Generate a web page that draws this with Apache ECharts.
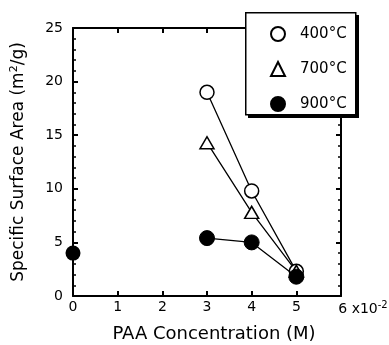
<!DOCTYPE html>
<html>
<head>
<meta charset="utf-8">
<script src="https://cdn.jsdelivr.net/npm/echarts@6/dist/echarts.min.js"></script>
<style>
  html, body { margin: 0; padding: 0; background: #fff; }
  #chart { width: 389px; height: 345px; }
</style>
</head>
<body>
<div id="chart"></div>
<script>
// PAA concentration (x 10^-2 M) vs specific surface area (m2/g)
var xTicks = [0, 1, 2, 3, 4, 5, 6];
var yTicks = [0, 5, 10, 15, 20, 25];

var conc400 = [3, 4, 5];
var area400 = [19.0, 9.8, 2.3];

var conc700 = [3, 4, 5];
var area700 = [14.3, 7.8, 2.3];

var conc900 = [3, 4, 5];
var area900 = [5.4, 5.0, 1.8];

// lone 900°C point at zero concentration (not joined)
var conc900Zero = [0];
var area900Zero = [4.0];

var font = "DejaVu Sans";

function pairs(xs, ys) {
  return xs.map(function (x, i) { return [x, ys[i]]; });
}

var chart = echarts.init(document.getElementById("chart"));

var baseAxis = {
  axisLine: { show: true, onZero: false, lineStyle: { color: "#000", width: 2 } },
  axisTick: { show: true, inside: true, length: 5, lineStyle: { color: "#000", width: 2 } },
  splitLine: { show: false }
};

var option = {
  animation: false,
  backgroundColor: "#fff",
  grid: { left: 73, right: 48, top: 28, bottom: 49, outerBoundsMode: "none" },
  // legend frame with a drop shadow
  graphic: [
    { type: "rect", left: 248, top: 15, z: 10, shape: { width: 111, height: 103 }, style: { fill: "#000" } },
    { type: "rect", left: 245, top: 12, z: 11, shape: { width: 110, height: 102 }, style: { fill: "#fff", stroke: "#000", lineWidth: 1.5 } }
  ],
  legend: {
    orient: "vertical",
    left: 245,
    top: 12,
    z: 12,
    padding: [14, 8, 10, 25],
    itemGap: 19,
    itemWidth: 14,
    itemHeight: 14,
    textStyle: { fontFamily: font, fontSize: 15, color: "#000", padding: [0, 0, 0, 10] },
    data: [
      { name: "400°C", icon: "circle" },
      { name: "700°C", icon: "triangle" },
      { name: "900°C", icon: "circle" }
    ]
  },
  xAxis: [
    Object.assign({}, baseAxis, {
      type: "value",
      min: xTicks[0],
      max: xTicks[xTicks.length - 1],
      interval: 1,
      position: "bottom",
      name: "PAA Concentration (M)",
      nameLocation: "middle",
      nameGap: 29,
      nameTextStyle: { fontFamily: font, fontSize: 18, color: "#000", padding: [0, 0, 0, 14] },
      axisLabel: {
        margin: 4,
        fontFamily: font,
        fontSize: 14,
        color: "#000",
        formatter: function (v) {
          if (v === 6) return "{sp| }{n|6}{r| x10}{s|-2}";
          return v;
        },
        rich: {
          sp: { width: 44, fontSize: 14 },
          n: { fontFamily: font, fontSize: 14, color: "#000", lineHeight: 18 },
          r: { fontFamily: font, fontSize: 14, color: "#000", lineHeight: 18 },
          s: { fontFamily: font, fontSize: 10, color: "#000", verticalAlign: "top", lineHeight: 18, padding: [0, 0, 8, 0] }
        }
      }
    }),
    Object.assign({}, baseAxis, {
      type: "value",
      min: xTicks[0],
      max: xTicks[xTicks.length - 1],
      interval: 1,
      position: "top",
      axisLabel: { show: false }
    })
  ],
  yAxis: [
    Object.assign({}, baseAxis, {
      type: "value",
      min: yTicks[0],
      max: yTicks[yTicks.length - 1],
      interval: 5,
      position: "left",
      name: "Specific Surface Area (m{sup|2}/g)",
      nameLocation: "middle",
      nameRotate: 90,
      nameGap: 45,
      nameTextStyle: {
        fontFamily: font,
        fontSize: 17,
        color: "#000",
        rich: {
          sup: { fontFamily: font, fontSize: 11, color: "#000", verticalAlign: "top", padding: [0, 0, 8, 0] }
        }
      },
      minorTick: { show: true, splitNumber: 5, length: 3, lineStyle: { color: "#000", width: 1.5 } },
      axisLabel: { margin: 10, fontFamily: font, fontSize: 14, color: "#000" }
    }),
    Object.assign({}, baseAxis, {
      type: "value",
      min: yTicks[0],
      max: yTicks[yTicks.length - 1],
      interval: 5,
      position: "right",
      minorTick: { show: true, splitNumber: 5, length: 3, lineStyle: { color: "#000", width: 1.5 } },
      axisLabel: { show: false }
    })
  ],
  series: [
    {
      name: "400°C",
      type: "line",
      data: pairs(conc400, area400),
      symbol: "circle",
      symbolSize: 14,
      itemStyle: { color: "#fff", borderColor: "#000", borderWidth: 1.5 },
      lineStyle: { color: "#000", width: 1.3 },
      z: 3
    },
    {
      name: "700°C",
      type: "line",
      data: pairs(conc700, area700),
      symbol: "triangle",
      symbolSize: [14, 12],
      itemStyle: { color: "#fff", borderColor: "#000", borderWidth: 1.5 },
      lineStyle: { color: "#000", width: 1.3 },
      z: 3
    },
    {
      name: "900°C",
      type: "line",
      data: pairs(conc900, area900),
      symbol: "circle",
      symbolSize: 15,
      itemStyle: { color: "#000", borderColor: "#000", borderWidth: 1 },
      lineStyle: { color: "#000", width: 1.3 },
      z: 4
    },
    {
      name: "900°C",
      type: "scatter",
      data: pairs(conc900Zero, area900Zero),
      symbol: "circle",
      symbolSize: 15,
      itemStyle: { color: "#000", opacity: 1 },
      clip: false,
      z: 4
    }
  ]
};

chart.setOption(option);
</script>
</body>
</html>
